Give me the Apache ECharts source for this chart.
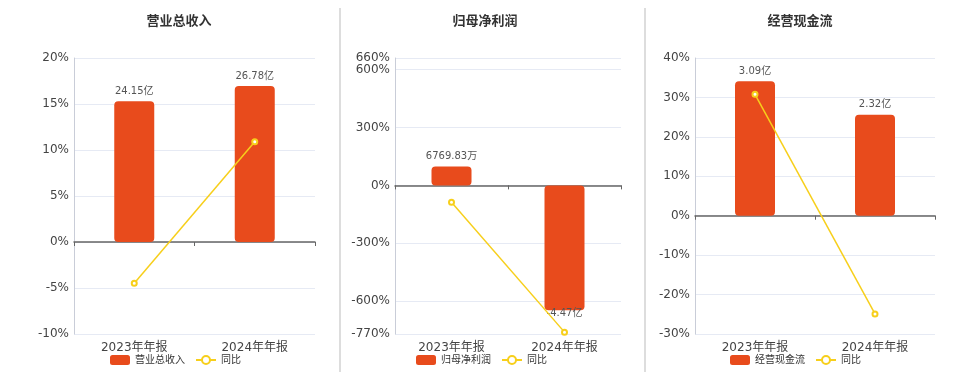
<!DOCTYPE html>
<html><head><meta charset="utf-8">
<script src="https://cdn.jsdelivr.net/npm/echarts@6/dist/echarts.min.js"></script>
<style>html,body{margin:0;padding:0;background:#fff}#c{width:960px;height:372px}</style>
</head><body><div id="c"></div>
<script>
const categories = ['2023年年报', '2024年年报'];
const titles = ['营业总收入', '归母净利润', '经营现金流'];
const yoyName = '同比';
const revenue = [24.15, 26.78];          // 亿
const revenueYoY = [-4.49, 10.89];       // %
const profit = [0.676983, -4.47];        // 亿
const profitYoY = [-87, -760.3];         // %
const cashflow = [3.09, 2.32];           // 亿
const cashflowYoY = [30.8, -24.92];      // %

const barSets = [revenue, profit, cashflow];
const yoySets = [revenueYoY, profitYoY, cashflowYoY];
const pctAxes = [{min: -10, max: 20, interval: 5}, {min: -770, max: 660}, {min: -30, max: 40, interval: 10}];
const barAxes = [{min: -15.79, max: 31.59}, {min: -5.315, max: 4.556}, {min: -2.72, max: 3.625}];
const grids = [{left: 74, right: 645}, {left: 395, right: 339}, {left: 695, right: 25}];
const titleX = [174, 480, 795];
const legendX = [105, 411, 725];

const FONT = '"DejaVu Sans", "Noto Sans CJK SC", sans-serif';
const BAR = '#E84B1C';
const LINE = '#F7CF1B';

function fmt(v) {
  if (Math.abs(v) < 1) return (v * 10000).toFixed(2) + '万';
  return v.toFixed(2) + '亿';
}

const labelBase = {fontSize: 12, color: '#444', margin: 5, fontFamily: FONT};

const option = {
  animation: false,
  textStyle: {fontFamily: FONT},
  title: titles.map((t, i) => ({
    text: t, left: titleX[i], top: 10, textAlign: 'center',
    textStyle: {fontSize: 13, fontWeight: 'bold', color: '#333', fontFamily: FONT}
  })),
  legend: titles.map((t, i) => ({
    data: [{name: t, icon: 'roundRect'}, {name: yoyName}],
    left: legendX[i], top: 350, itemWidth: 20, itemHeight: 10, itemGap: 10,
    textStyle: {fontSize: 10, color: '#333', fontFamily: FONT},
    selectedMode: false
  })),
  grid: grids.map(g => ({left: g.left, right: g.right, top: 58, bottom: 38})),
  xAxis: grids.map((g, i) => ({
    type: 'category', gridIndex: i, data: categories,
    axisLine: {onZero: true, onZeroAxisIndex: i * 2, lineStyle: {color: '#666', width: 1.5}},
    axisTick: {show: true, length: 4, lineStyle: {color: '#666'}},
    axisLabel: {fontSize: 12, color: '#444', margin: 8, fontFamily: FONT}
  })),
  yAxis: [],
  series: [],
  graphic: [
    {type: 'line', shape: {x1: 340, y1: 8, x2: 340, y2: 372}, style: {stroke: '#ddd', lineWidth: 2}},
    {type: 'line', shape: {x1: 645, y1: 8, x2: 645, y2: 372}, style: {stroke: '#ddd', lineWidth: 2}}
  ]
};

grids.forEach((g, i) => {
  option.yAxis.push(Object.assign({
    type: 'value', gridIndex: i, splitNumber: 5,
    axisLine: {show: true, lineStyle: {color: '#c9cdd8'}},
    axisTick: {show: false},
    splitLine: {show: true, lineStyle: {color: '#e6eaf4'}},
    axisLabel: Object.assign({formatter: '{value}%', showMinLabel: true,
      showMaxLabel: i === 1 ? false : true}, labelBase)
  }, pctAxes[i]));
  option.yAxis.push(Object.assign({
    type: 'value', gridIndex: i, show: false, splitLine: {show: false}
  }, barAxes[i]));
  option.series.push({
    type: 'bar', name: titles[i], xAxisIndex: i, yAxisIndex: i * 2 + 1,
    data: barSets[i].map(v => ({
      value: v,
      label: v < 0 ? {position: 'bottom', distance: 0, offset: [0, -2]} : {position: 'top'}
    })),
    barWidth: 40,
    itemStyle: {color: BAR, borderRadius: 4},
    label: {show: true, fontSize: 10, color: '#555', fontFamily: FONT, formatter: p => fmt(p.value)}
  });
  option.series.push({
    type: 'line', name: yoyName, xAxisIndex: i, yAxisIndex: i * 2,
    data: yoySets[i], symbol: 'emptyCircle', symbolSize: 5,
    lineStyle: {color: LINE, width: 1.5},
    itemStyle: {color: LINE, borderColor: LINE, borderWidth: 1.5}
  });
});

// overlay axis in the middle grid that only prints the max (660%) label
option.yAxis.push(Object.assign({
  type: 'value', gridIndex: 1, splitNumber: 5, position: 'left',
  axisLine: {show: false}, axisTick: {show: false}, splitLine: {show: false},
  axisLabel: Object.assign({showMaxLabel: true, showMinLabel: false,
    formatter: v => (v === pctAxes[1].max ? v + '%' : '')}, labelBase)
}, pctAxes[1]));

const chart = echarts.init(document.getElementById('c'), null, {renderer: 'canvas'});
chart.setOption(option);
</script>
</body></html>
